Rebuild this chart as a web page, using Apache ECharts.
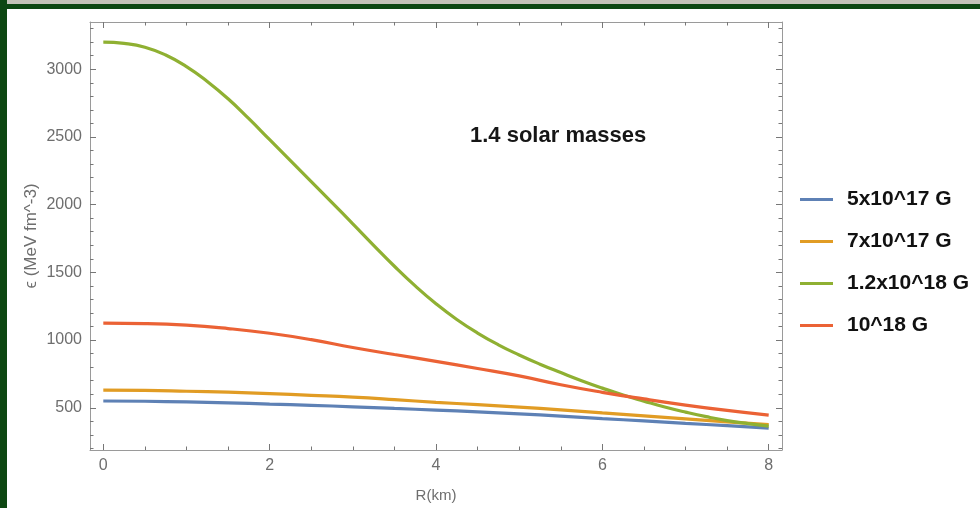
<!DOCTYPE html>
<html>
<head>
<meta charset="utf-8">
<script src="https://cdn.jsdelivr.net/npm/echarts@6/dist/echarts.min.js"></script>
<style>
  html, body { margin: 0; padding: 0; background: #ffffff; }
  #chart { width: 980px; height: 508px; }
</style>
</head>
<body>
<div id="chart"></div>
<script>
// Radius samples (km)
const radiusKm = [0, 0.5, 1, 1.5, 2, 2.5, 3, 3.5, 4, 4.5, 5, 5.5, 6, 6.5, 7, 7.5, 8];
// Finer radius samples for the steep 1.2x10^18 G profile
const radiusKmFine = [0, 0.25, 0.5, 0.75, 1, 1.25, 1.5, 1.75, 2, 2.25, 2.5, 2.75, 3, 3.25, 3.5, 3.75,
  4, 4.25, 4.5, 4.75, 5, 5.25, 5.5, 5.75, 6, 6.25, 6.5, 6.75, 7, 7.25, 7.5, 7.75, 8];

// Energy density (MeV fm^-3) for each magnetic field strength
const field5e17 = [550, 548, 543, 536, 527, 518, 507, 495, 483, 470, 455, 438, 420, 403, 385, 368, 350];
const field7e17 = [630, 628, 622, 615, 605, 592, 578, 560, 540, 523, 505, 485, 462, 440, 418, 396, 375];
const field12e17 = [3200, 3191, 3163, 3105, 3020, 2910, 2782, 2635, 2480, 2325, 2170, 2015, 1858, 1700,
  1545, 1400, 1268, 1152, 1052, 965, 890, 822, 760, 700, 645, 594, 549, 506, 468, 434, 405, 383, 365];
const field1e18 = [1125, 1122, 1110, 1085, 1050, 1003, 945, 893, 843, 790, 735, 670, 614, 565, 520, 480, 445];

const seriesNames = ['5x10^17 G', '7x10^17 G', '1.2x10^18 G', '10^18 G'];
const seriesColors = ['#5E81B5', '#E19C24', '#8FB032', '#EB6235'];
const seriesRadii = [radiusKm, radiusKm, radiusKmFine, radiusKm];
const valueSets = [field5e17, field7e17, field12e17, field1e18];

// Tick positions
const xMajorTicks = [0, 2, 4, 6, 8];
const xMinorTicks = [0.5, 1, 1.5, 2.5, 3, 3.5, 4.5, 5, 5.5, 6.5, 7, 7.5];
const yMajorTicks = [500, 1000, 1500, 2000, 2500, 3000];
const yMinorTicks = [200, 300, 400, 600, 700, 800, 900, 1100, 1200, 1300, 1400, 1600, 1700, 1800, 1900,
  2100, 2200, 2300, 2400, 2600, 2700, 2800, 2900, 3100, 3200, 3300];

const X_MIN = -0.16, X_MAX = 8.16;
const Y_MIN = 188, Y_MAX = 3349;

const frameColor = '#9a9a9a';
const tickColor = '#777777';
const labelColor = '#6e6e6e';
const fontFamily = '"Liberation Sans", Arial, sans-serif';

function plainNumber(v) { return String(v); }

function axisDef(kind, position, ticks, len, withLabels) {
  return {
    type: 'value', position: position,
    min: kind === 'x' ? X_MIN : Y_MIN,
    max: kind === 'x' ? X_MAX : Y_MAX,
    axisLine: { show: withLabels !== null, onZero: false, lineStyle: { color: frameColor, width: 1 } },
    axisTick: { show: true, inside: true, length: len, customValues: ticks, lineStyle: { color: tickColor, width: 1 } },
    axisLabel: withLabels ? {
      show: true, customValues: ticks, formatter: plainNumber,
      color: labelColor, fontSize: 16, fontFamily: fontFamily, margin: 8
    } : { show: false },
    splitLine: { show: false }
  };
}

const xBottom = axisDef('x', 'bottom', xMajorTicks, 6, true);
xBottom.name = 'R(km)';
xBottom.nameLocation = 'middle';
xBottom.nameGap = 38;
xBottom.nameMoveOverlap = false;
xBottom.nameTextStyle = { color: labelColor, fontSize: 15, fontFamily: fontFamily };

const yLeft = axisDef('y', 'left', yMajorTicks, 6, true);
yLeft.name = 'ϵ (MeV fm^-3)';
yLeft.nameLocation = 'middle';
yLeft.nameRotate = 90;
yLeft.nameGap = 50;
yLeft.nameMoveOverlap = false;
yLeft.nameTextStyle = { color: labelColor, fontSize: 17, fontFamily: fontFamily };

const option = {
  backgroundColor: '#ffffff',
  animation: false,
  grid: { left: 90, top: 22, width: 692, height: 428, show: false },
  xAxis: [
    xBottom,
    axisDef('x', 'bottom', xMinorTicks, 3.5, null),
    axisDef('x', 'top', xMajorTicks, 6, false),
    axisDef('x', 'top', xMinorTicks, 3.5, null)
  ],
  yAxis: [
    yLeft,
    axisDef('y', 'left', yMinorTicks, 3.5, null),
    axisDef('y', 'right', yMajorTicks, 6, false),
    axisDef('y', 'right', yMinorTicks, 3.5, null)
  ],
  legend: {
    orient: 'vertical',
    left: 800,
    top: 189,
    padding: 0,
    itemGap: 21,
    icon: 'rect',
    itemWidth: 33,
    itemHeight: 3,
    data: seriesNames,
    textStyle: { color: '#111111', fontSize: 21, fontWeight: 'bold', fontFamily: fontFamily, padding: [0, 0, 0, 9] }
  },
  graphic: [
    { type: 'rect', left: 0, top: 0, shape: { width: 980, height: 4 }, style: { fill: '#c4c3b8' }, silent: true },
    { type: 'rect', left: 0, top: 4, shape: { width: 980, height: 5 }, style: { fill: '#0d4712' }, silent: true },
    { type: 'rect', left: 0, top: 0, shape: { width: 7, height: 508 }, style: { fill: '#0d4712' }, silent: true },
    {
      type: 'text', left: 470, top: 125,
      style: { text: '1.4 solar masses', fill: '#161616', font: 'bold 22px "Liberation Sans", Arial, sans-serif' },
      silent: true
    }
  ],
  series: seriesNames.map(function (name, i) {
    return {
      name: name,
      type: 'line',
      xAxisIndex: 0,
      yAxisIndex: 0,
      smooth: true,
      symbol: 'none',
      color: seriesColors[i],
      lineStyle: { width: 3.2, color: seriesColors[i] },
      data: seriesRadii[i].map(function (r, k) { return [r, valueSets[i][k]]; })
    };
  })
};

const chart = echarts.init(document.getElementById('chart'), null, { renderer: 'canvas' });
chart.setOption(option);
</script>
</body>
</html>
